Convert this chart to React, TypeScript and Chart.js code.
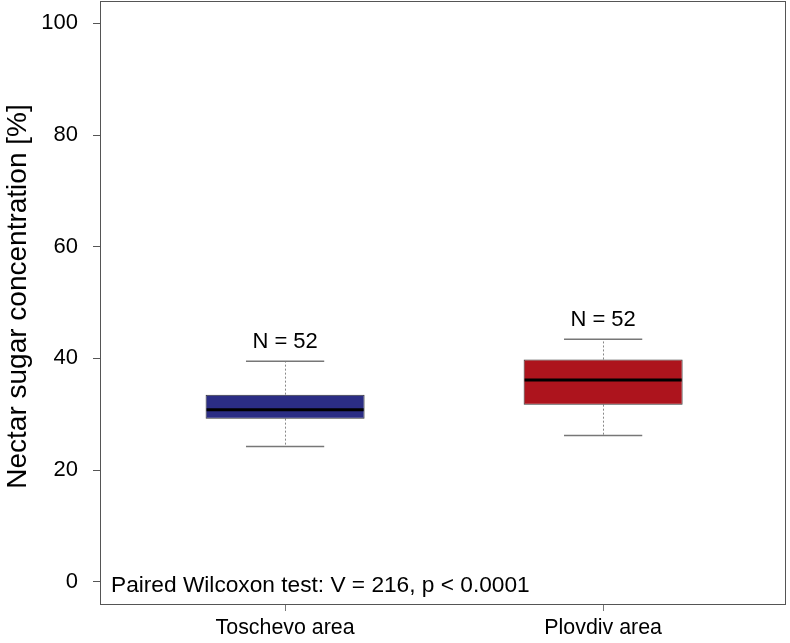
import React, { useEffect, useRef } from "react";
import { Chart, registerables } from "chart.js";

Chart.register(...registerables);

const categories = ["Toschevo area", "Plovdiv area"];
const positions = [1, 2];
const whiskerLow = [24.2, 26.2];
const q1 = [29.2, 31.7];
const median = [30.8, 36.1];
const q3 = [33.5, 39.8];
const whiskerHigh = [39.5, 43.4];
const counts = [52, 52];
const boxColors = ["#2B2D84", "#AD141D"];
const yTicks = [0, 20, 40, 60, 80, 100];
const yTitle = "Nectar sugar concentration [%]";
const annotation = "Paired Wilcoxon test: V = 216, p < 0.0001";

const FONT = "'Liberation Sans', Arial, Helvetica, sans-serif";

const boxPlugin = {
  id: "boxExtras",
  beforeDatasetsDraw(chart: any) {
    const { ctx, scales, chartArea } = chart;
    const x = scales.x;
    const y = scales.y;
    ctx.save();
    // plot border
    ctx.strokeStyle = "#555";
    ctx.lineWidth = 1;
    ctx.strokeRect(chartArea.left + 0.5, chartArea.top + 0.5, chartArea.right - chartArea.left - 1, chartArea.bottom - chartArea.top);
    positions.forEach((p, i) => {
      const cx = Math.round(x.getPixelForValue(p)) + 0.5;
      // dotted whiskers
      ctx.strokeStyle = "#888";
      ctx.lineWidth = 1;
      ctx.setLineDash([2, 2]);
      ctx.beginPath();
      ctx.moveTo(cx, y.getPixelForValue(q3[i]));
      ctx.lineTo(cx, y.getPixelForValue(whiskerHigh[i]));
      ctx.moveTo(cx, y.getPixelForValue(q1[i]));
      ctx.lineTo(cx, y.getPixelForValue(whiskerLow[i]));
      ctx.stroke();
      ctx.setLineDash([]);
      // caps
      ctx.strokeStyle = "#777";
      ctx.lineWidth = 1.5;
      const l = x.getPixelForValue(p - 0.123);
      const r = x.getPixelForValue(p + 0.123);
      ctx.beginPath();
      ctx.moveTo(l, y.getPixelForValue(whiskerHigh[i]));
      ctx.lineTo(r, y.getPixelForValue(whiskerHigh[i]));
      ctx.moveTo(l, y.getPixelForValue(whiskerLow[i]));
      ctx.lineTo(r, y.getPixelForValue(whiskerLow[i]));
      ctx.stroke();
    });
    ctx.restore();
  },
  afterDatasetsDraw(chart: any) {
    const { ctx, scales, chartArea } = chart;
    const x = scales.x;
    const y = scales.y;
    ctx.save();
    positions.forEach((p, i) => {
      // median
      ctx.strokeStyle = "#000";
      ctx.lineWidth = 3;
      ctx.beginPath();
      ctx.moveTo(x.getPixelForValue(p - 0.25) + 1, y.getPixelForValue(median[i]));
      ctx.lineTo(x.getPixelForValue(p + 0.25) - 1, y.getPixelForValue(median[i]));
      ctx.stroke();
      // N label
      ctx.fillStyle = "#000";
      ctx.font = `22px ${FONT}`;
      ctx.textAlign = "center";
      ctx.textBaseline = "alphabetic";
      ctx.fillText(`N = ${counts[i]}`, x.getPixelForValue(p), y.getPixelForValue(whiskerHigh[i] + 2.4));
    });
    // annotation
    ctx.font = `22.7px ${FONT}`;
    ctx.textAlign = "left";
    ctx.textBaseline = "alphabetic";
    ctx.fillStyle = "#000";
    ctx.fillText(annotation, chartArea.left + 11, y.getPixelForValue(-1.8));
    // y title
    ctx.save();
    ctx.translate(26, (chartArea.top + chartArea.bottom) / 2 - 6);
    ctx.rotate(-Math.PI / 2);
    ctx.font = `28px ${FONT}`;
    ctx.textAlign = "center";
    ctx.fillText(yTitle, 0, 0);
    ctx.restore();
    ctx.restore();
  },
};

export default function App() {
  const ref = useRef<HTMLCanvasElement>(null);
  useEffect(() => {
    if (!ref.current) return;
    const chart = new Chart(ref.current, {
      type: "bar",
      data: {
        datasets: [
          {
            data: positions.map((p, i) => ({ x: p, y: [q1[i], q3[i]] })) as any,
            backgroundColor: boxColors,
            borderColor: "#333",
            borderWidth: 1,
            borderSkipped: false,
            barPercentage: 0.5,
            categoryPercentage: 1,
          },
        ],
      },
      options: {
        animation: false,
        responsive: false,
        devicePixelRatio: 1,
        layout: { padding: { top: 1, right: 4, left: 0, bottom: 0 } },
        plugins: { legend: { display: false }, tooltip: { enabled: false } },
        scales: {
          x: {
            type: "linear",
            min: 0.418,
            max: 2.575,
            offset: false,
            afterFit: (s: any) => { s.height = 39; s.paddingLeft = 0; s.paddingRight = 0; s.paddingTop = 0; s.paddingBottom = 0; },
            afterBuildTicks: (s: any) => { s.ticks = positions.map((v) => ({ value: v })); },
            grid: { display: true, drawOnChartArea: false, drawTicks: true, tickLength: 7, color: "#777", offset: false },
            border: { display: false },
            ticks: {
              callback: (v: any) => categories[positions.indexOf(Number(v))] ?? "",
              font: { family: FONT, size: 21.4 },
              color: "#000",
              padding: 4,
              maxRotation: 0,
              autoSkip: false,
            },
          },
          y: {
            type: "linear",
            min: -4,
            max: 104,
            afterFit: (s: any) => { s.width = 100; s.paddingTop = 0; s.paddingBottom = 0; s.paddingLeft = 0; s.paddingRight = 0; },
            afterBuildTicks: (s: any) => { s.ticks = yTicks.map((v) => ({ value: v })); },
            grid: { display: true, drawOnChartArea: false, drawTicks: true, tickLength: 7, color: "#555" },
            border: { display: false },
            ticks: {
              callback: (v: any) => String(v),
              font: { family: FONT, size: 22 },
              color: "#000",
              padding: 15,
              autoSkip: false,
            },
          },
        },
      },
      plugins: [boxPlugin],
    });
    return () => chart.destroy();
  }, []);
  return (
    <div style={{ position: "absolute", left: 0, top: 0, width: 790, height: 643, background: "#fff" }}>
      <canvas ref={ref} width={790} height={643} />
    </div>
  );
}
